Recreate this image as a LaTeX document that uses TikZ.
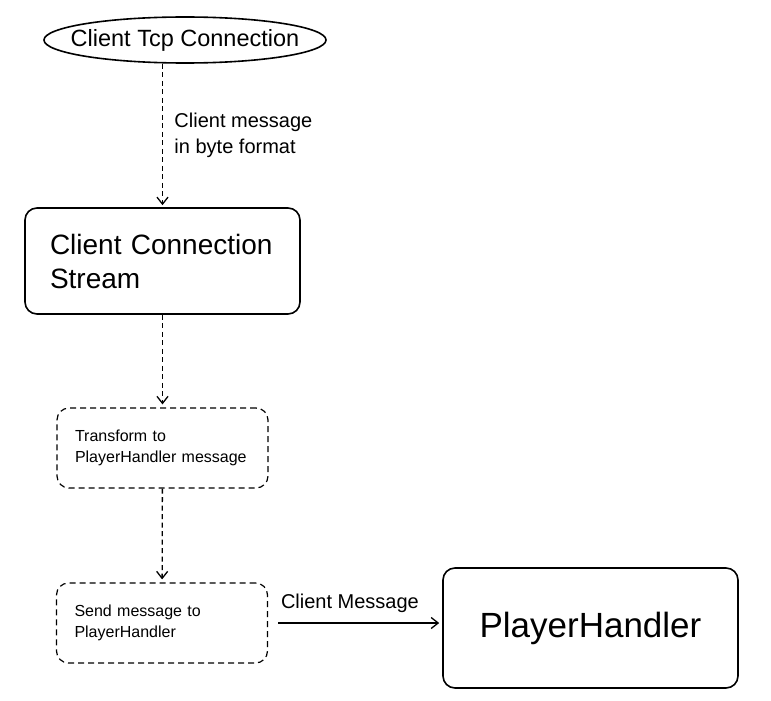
\documentclass[tikz,border=0pt]{standalone}
\usepackage{fontspec}
\setmainfont{Liberation Sans}
\usetikzlibrary{shapes.geometric,arrows.meta,positioning}

\begin{document}
\begin{tikzpicture}[x=1pt,y=-1pt]
  \useasboundingbox (0,0) rectangle (771,701);

  \tikzset{main node/.style={rectangle, draw, line width=1.6pt,
  		rounded corners=12pt}, }
  \tikzset{dash node/.style={rectangle, draw, line width=1.2pt,
  		dash pattern=on 6pt off 4pt, rounded corners=12pt,
  		text width=175pt, inner xsep=18pt, minimum height=80pt,
  		align=left, font=\fontsize{16}{21}\selectfont}, }
  \tikzset{linea/.style={-{Straight Barb[length=7pt,width=11pt]},
  		line width=1.3pt, dash pattern=on 5pt off 3.5pt}, }
  \tikzset{lineb/.style={-{Straight Barb[length=7pt,width=11pt]},
  		line width=1.3pt}, }
  \tikzset{label/.style={align=left, font=\fontsize{20}{26}\selectfont}, }

\node[ellipse, draw, line width=1.6pt, minimum width=282pt, minimum height=46pt,
  inner sep=0pt, font=\fontsize{23.5}{28}\selectfont] (a) at (185,40) {\makebox[0pt]{Client Tcp Connection}};
\node[main node, minimum height=106pt, text width=225pt, inner xsep=25pt,
  align=left, font=\fontsize{28}{34}\selectfont] (b) at (162.5,261) {Client Connection\\Stream};
\node[dash node] (c) at (162.5,448) {Transform to\\PlayerHandler message};
\node[dash node] (d) at (162,623) {Send message to\\PlayerHandler};
\node[main node, minimum width=295pt, minimum height=120pt,
  font=\fontsize{35}{42}\selectfont] (e) at (590.5,628) {PlayerHandler};

\path[linea] (a.south -| b.north) edge[shorten >=2pt]
  node[label, right=8pt] {Client message\\in byte format} (b.north);
\foreach \x /\y in {b/c,c/d}
  \path[linea] (\x) edge[shorten >=3pt] (\y);
\path[lineb] (d.east) edge[shorten <=10pt, shorten >=3pt]
  node[label, above=6pt, pos=0.47] {Client Message} (d.east -| e.west);
%%
\end{tikzpicture}
\end{document}
